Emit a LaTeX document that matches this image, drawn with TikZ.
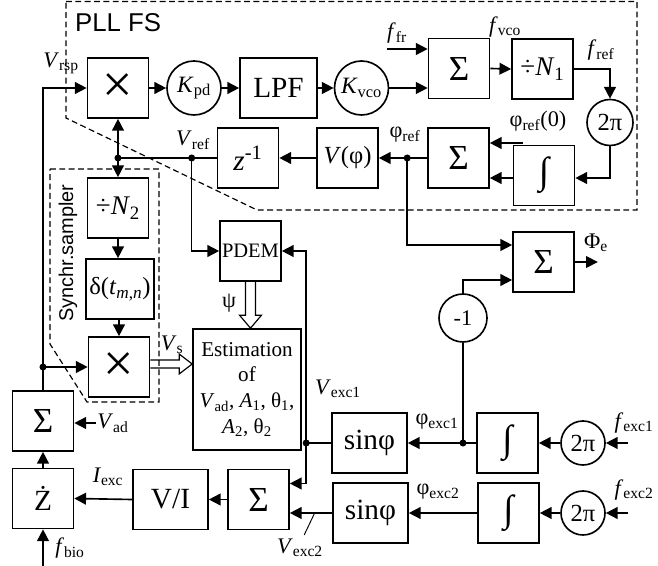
\documentclass[tikz,border=0pt]{standalone}
\usepackage{fontspec}
\setmainfont{Liberation Serif}
\setsansfont{Liberation Sans}
\usetikzlibrary{arrows.meta, calc, positioning}

\begin{document}
\begin{tikzpicture}[
  x=0.03cm, y=-0.03cm,
  font=\fontsize{19}{22}\selectfont,
  linea/.style={line width=1.4pt},
  filo/.style={line width=1.4pt, -{Triangle[length=10pt,width=10pt]}},
  blocco/.style={draw, line width=1.4pt, minimum width=1.83cm, minimum height=1.8cm, inner sep=0pt},
  cerchio/.style={draw, circle, line width=1.4pt, inner sep=0pt},
  grande/.style={font=\fontsize{25}{28}\selectfont},
  somma/.style={font=\fontsize{30}{32}\selectfont},
  integrale/.style={font=\fontsize{32}{34}\selectfont},
  per/.style={font=\fontsize{46}{46}\selectfont},
  punto/.style={circle, fill, inner sep=0pt, minimum size=6pt},
  bordo/.style={line width=1pt, dash pattern=on 5pt off 3pt},
  cava/.style={line width=1pt, line join=miter},
  etichetta/.style={inner sep=1pt}
]
\useasboundingbox (0,0) rectangle (658,566);

% Riquadri tratteggiati
\draw[bordo] (66,1.5) -- (637,1.5) -- (637,210) -- (257,210) -- (66,118) -- cycle;
\draw[bordo] (50,169) -- (159,169) -- (159,402) -- (87,402) -- (50,344) -- cycle;
\node[anchor=west, font=\sffamily\fontsize{22}{24}\selectfont] (pll) at (71,23) {PLL FS};
\node[rotate=90, font=\sffamily\fontsize{17}{20}\selectfont] (sincro) at (68,253) {Synchr.sampler};

% Blocchi PLL
\node[blocco, per] (molt1) at (118,88) {×};
\node[cerchio, minimum size=1.62cm, font=\fontsize{20}{22}\selectfont] (kpd) at (194,88) {\textit{K}\textsubscript{pd}};
\node[blocco, grande, minimum width=2.31cm] (lpf) at (278.5,88) {LPF};
\node[cerchio, minimum size=1.62cm, font=\fontsize{20}{22}\selectfont] (kvco) at (361.5,88) {\textit{K}\textsubscript{vco}};
\node[blocco, somma] (sommaT) at (459,68.5) {Σ};
\node[blocco, font=\fontsize{23}{26}\selectfont] (divN1) at (542.5,69) {÷\textit{N}\textsubscript{1}};
\node[cerchio, minimum size=1.38cm, font=\fontsize{21}{24}\selectfont] (dpT) at (610,122.5) {2π};
\node[blocco, integrale] (intT) at (544,175.5) {∫};
\node[blocco, somma] (sommaP) at (458.5,158) {Σ};
\node[blocco, font=\fontsize{21}{24}\selectfont] (vphi) at (347.5,158) {\textit{V}(φ)};
\node[blocco, grande] (zinv) at (248,158) {\textit{z}\textsuperscript{-1}};

% Campionatore sincrono
\node[blocco, font=\fontsize{23}{26}\selectfont] (divN2) at (118,208) {÷\textit{N}\textsubscript{2}};
\node[blocco, minimum width=2.04cm, font=\fontsize{21}{24}\selectfont] (delta) at (120,289) {δ(\textit{t}\textsubscript{\textit{m},\textit{n}})};
\node[blocco, per] (molt2) at (119,367) {×};

% Stima
\node[blocco, font=\fontsize{17.5}{20}\selectfont] (pdem) at (250.5,251) {PDEM};
\node[blocco, minimum width=3.24cm, minimum height=3.63cm, align=center, font=\fontsize{18}{22}\selectfont] (stima) at (247,389.5)
  {Estimation\\of\\\textit{V}\textsubscript{ad}, \textit{A}\textsubscript{1}, θ\textsubscript{1},\\\textit{A}\textsubscript{2}, θ\textsubscript{2}};
\node[blocco, somma] (sommaE) at (543.5,262) {Σ};
\node[cerchio, minimum size=1.44cm] (meno1) at (463,318) {-1};

% Eccitazione
\node[blocco, grande, minimum width=2.25cm] (sin1) at (369.5,443) {sinφ};
\node[blocco, integrale] (int1) at (507.5,443) {∫};
\node[cerchio, minimum size=1.32cm, font=\fontsize{21}{24}\selectfont] (dp1) at (583,443) {2π};
\node[blocco, grande, minimum width=2.25cm] (sin2) at (370.5,513) {sinφ};
\node[blocco, integrale] (int2) at (508.5,513) {∫};
\node[cerchio, minimum size=1.32cm, font=\fontsize{21}{24}\selectfont] (dp2) at (583,513) {2π};
\node[blocco, somma] (sommaB) at (258.5,499.5) {Σ};
\node[blocco, grande, minimum width=2.25cm] (vi) at (170.5,499.5) {V/I};
\node[blocco, grande] (zdot) at (43,498.5) {Ż};
\node[blocco, somma] (sommaL) at (43,421) {Σ};

% Ingressi esterni
\coordinate (ffr) at (387,49);
\coordinate (phi0) at (523,143);
\coordinate (fexc1) at (628,443);
\coordinate (fexc2) at (628,513);
\coordinate (fbio) at (43,566);
\node[etichetta, anchor=west] (vad) at (96,423) {\textit{V}\textsubscript{ad}};

% Collegamenti anello
\draw[filo] (sommaL.north) |- (molt1.west);
\coordinate (jL) at (sommaL.north |- molt2.west);
\node[punto] at (jL) {};
\draw[filo] (jL) -- (molt2.west);
\draw[filo] (molt1.east) -- (kpd.west);
\draw[filo] (kpd.east) -- (lpf.west);
\draw[filo] (lpf.east) -- (kvco.west);
\draw[filo] (kvco.east) -- (kvco.east -| sommaT.west);
\draw[filo] (ffr) -- (ffr -| sommaT.west);
\draw[filo] (sommaT.east) -- (divN1.west);
\draw[filo] (divN1.east) -| (dpT.north);
\draw[filo] (dpT.south) |- ($(intT.east)+(0,2.5)$);
\draw[filo] ($(intT.west)+(0,2.5)$) -- ($(intT.west -| sommaP.east)+(0,2.5)$);
\draw[filo] (phi0) -- (phi0 -| sommaP.east);
\draw[filo] (sommaP.west) -- (vphi.east);
\draw[filo] (vphi.west) -- (zinv.east);
\coordinate (jA) at (molt1.south |- zinv.west);
\draw[linea] (zinv.west) -- (jA);
\node[punto] at (jA) {};
\draw[filo] (jA) -- (molt1.south);
\draw[filo] (jA) -- (divN2.north);
\draw[filo] (divN2.south) -- (divN2.south |- delta.north);
\draw[filo] (delta.south -| molt2.north) -- (molt2.north);

% Collegamenti fase
\coordinate (jR) at ($(zinv.west)+(-25,0)$);
\node[punto] at (jR) {};
\draw[filo] (jR) |- (pdem.west);
\coordinate (jP) at ($(sommaP.west)+(-20,0)$);
\node[punto] at (jP) {};
\draw[filo] (jP) |- ($(sommaE.west)+(0,-17)$);
\draw[filo] (meno1.north) |- ($(sommaE.west)+(0,18)$);
\coordinate (phie) at ($(sommaE.east)+(23,0)$);
\draw[filo] (sommaE.east) -- (phie);

% Collegamenti eccitazione
\draw[filo] (fexc1) -- (dp1.east);
\draw[filo] (dp1.west) -- (int1.east);
\draw[filo] (int1.west) -- (sin1.east);
\coordinate (jM) at (meno1.south |- int1.west);
\node[punto] at (jM) {};
\draw[linea] (jM) -- (meno1.south);
\coordinate (jV) at ($(sin1.west)+(-25,0)$);
\draw[linea] (sin1.west) -- (jV);
\node[punto] at (jV) {};
\draw[filo] (jV) |- (pdem.east);
\draw[filo] (jV) |- ($(sommaB.east)+(0,-16)$);
\draw[filo] (fexc2) -- (dp2.east);
\draw[filo] (dp2.west) -- (int2.east);
\draw[filo] (int2.west) -- (sin2.east);
\draw[filo] (sin2.west) -- (sin2.west -| sommaB.east);
\draw[line width=0.8pt] ($(sin2.west)+(-18,1)$) -- ($(sin2.west)+(-28,22)$);
\draw[filo] (sommaB.west) -- (vi.east);
\draw[filo] (vi.west) -- (zdot.east);
\draw[filo] (zdot.north) -- (sommaL.south);
\draw[filo] (fbio) -- (zdot.south);
\draw[filo] (vad.west) -- (vad.west -| sommaL.east);

% Frecce cave
\coordinate (vsA) at ($(molt2.east)+(0,-3)$);
\coordinate (vsB) at (stima.west |- vsA);
\draw[cava] ($(vsA)+(0,-4)$) -- ($(vsB)+(-13,-4)$) -- ($(vsB)+(-13,-10)$) -- (vsB)
  -- ($(vsB)+(-13,10)$) -- ($(vsB)+(-13,4)$) -- ($(vsA)+(0,4)$);
\coordinate (psA) at (pdem.south);
\coordinate (psB) at (stima.north -| psA);
\draw[cava] ($(psA)+(-5,0)$) -- ($(psB)+(-5,-13)$) -- ($(psB)+(-11,-13)$) -- (psB)
  -- ($(psB)+(11,-13)$) -- ($(psB)+(5,-13)$) -- ($(psA)+(5,0)$);

% Etichette
\node[etichetta] at (61,63) {\textit{V}\textsubscript{rsp}};
\node[etichetta] at (397,33) {\textit{f}\textsubscript{fr}};
\node[etichetta] at (505,27) {\textit{f}\textsubscript{vco}};
\node[etichetta] at (601,50) {\textit{f}\textsubscript{ref}};
\node[etichetta] at (538,121) {φ\textsubscript{ref}(0)};
\node[etichetta] at (405,135) {φ\textsubscript{ref}};
\node[etichetta] at (193,140) {\textit{V}\textsubscript{ref}};
\node[etichetta] at (596,243) {Φ\textsubscript{e}};
\node[etichetta] at (229,303) {ψ};
\node[etichetta] at (172,345) {\textit{V}\textsubscript{s}};
\node[etichetta] at (338,389) {\textit{V}\textsubscript{exc1}};
\node[etichetta] at (437,422) {φ\textsubscript{exc1}};
\node[etichetta] at (634,423) {\textit{f}\textsubscript{exc1}};
\node[etichetta] at (438,492) {φ\textsubscript{exc2}};
\node[etichetta] at (634,490) {\textit{f}\textsubscript{exc2}};
\node[etichetta] at (300,548) {\textit{V}\textsubscript{exc2}};
\node[etichetta] at (108,477) {\textit{I}\textsubscript{exc}};
\node[etichetta] at (70,548) {\textit{f}\textsubscript{bio}};

\end{tikzpicture}
\end{document}
